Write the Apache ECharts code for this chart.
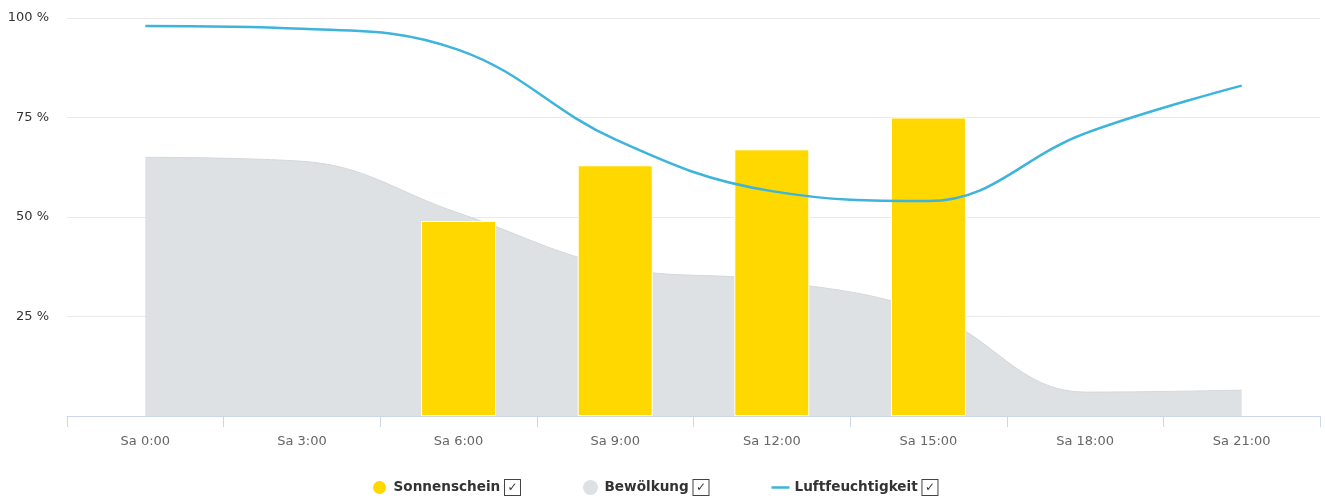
<!DOCTYPE html>
<html>
<head>
<meta charset="utf-8">
<script src="https://cdn.jsdelivr.net/npm/echarts@6/dist/echarts.min.js"></script>
<style>
  html, body { margin: 0; padding: 0; background: #fff; }
  #chart { width: 1325px; height: 499px; }
</style>
</head>
<body>
<div id="chart"></div>
<script>
const categories = ['Sa 0:00', 'Sa 3:00', 'Sa 6:00', 'Sa 9:00', 'Sa 12:00', 'Sa 15:00', 'Sa 18:00', 'Sa 21:00']
const sunshine = [null, null, 49, 63, 67, 75, null, null]
const clouds = [65, 64, 51, 37.5, 34, 26, 6, 6.5]
const humidity = [98, 97.3, 92, 69.5, 56.5, 54, 71, 83]
const yTicks = [0, 25, 50, 75, 100]

const font = 'DejaVu Sans'

const chart = echarts.init(document.getElementById('chart'))

const option = {
  animation: false,
  grid: {
    left: 67,
    right: 5,
    top: 18,
    bottom: 83
  },
  legend: {
    left: 366,
    top: 474,
    itemGap: 62,
    itemWidth: 18,
    itemHeight: 15,
    data: [
      { name: 'Sonnenschein', icon: 'circle' },
      { name: 'Bewölkung', icon: 'circle' },
      // plain line icon, no marker
      { name: 'Luftfeuchtigkeit', icon: 'path://M0,0 L18,0 L18,2.5 L0,2.5 Z' }
    ],
    formatter: name => name + ' {cb|✓}',
    textStyle: {
      fontFamily: font,
      fontSize: 13.6,
      fontWeight: 'bold',
      color: '#333',
      rich: {
        cb: {
          width: 15,
          height: 15,
          lineHeight: 15,
          align: 'center',
          verticalAlign: 'middle',
          borderColor: '#444',
          borderWidth: 1,
          backgroundColor: '#fff',
          fontFamily: font,
          fontSize: 12,
          fontWeight: 'normal',
          color: '#333'
        }
      }
    }
  },
  xAxis: {
    type: 'category',
    data: categories,
    boundaryGap: true,
    axisLine: { lineStyle: { color: '#ccd6eb', width: 1 } },
    axisTick: { show: true, length: 11, lineStyle: { color: '#ccd6eb' } },
    axisLabel: {
      margin: 19,
      fontFamily: font,
      fontSize: 13,
      color: '#666'
    },
    splitLine: { show: false }
  },
  yAxis: {
    type: 'value',
    min: yTicks[0],
    max: yTicks[yTicks.length - 1],
    interval: 25,
    axisLine: { show: false },
    axisTick: { show: false },
    axisLabel: {
      margin: 18,
      fontFamily: font,
      fontSize: 13,
      color: '#333',
      formatter: v => (v === 0 ? '' : v + ' %')
    },
    splitLine: { lineStyle: { color: '#e9e9e9', width: 1 } }
  },
  series: [
    {
      name: 'Sonnenschein',
      type: 'bar',
      data: sunshine,
      barWidth: 75,
      z: 3,
      itemStyle: {
        color: '#ffd800',
        borderColor: '#fff',
        borderWidth: 1
      }
    },
    {
      name: 'Bewölkung',
      type: 'line',
      data: clouds,
      smooth: 0.4,
      symbol: 'none',
      z: 2,
      color: '#dde1e4',
      lineStyle: { color: '#d3d8dc', width: 1 },
      areaStyle: { color: '#dde1e4', opacity: 1 }
    },
    {
      name: 'Luftfeuchtigkeit',
      type: 'line',
      data: humidity,
      smooth: 0.4,
      symbol: 'none',
      z: 4,
      color: '#3db4dc',
      lineStyle: { color: '#3db4dc', width: 2.5 }
    }
  ]
}

chart.setOption(option)

window.addEventListener('resize', () => chart.resize())
</script>
</body>
</html>
